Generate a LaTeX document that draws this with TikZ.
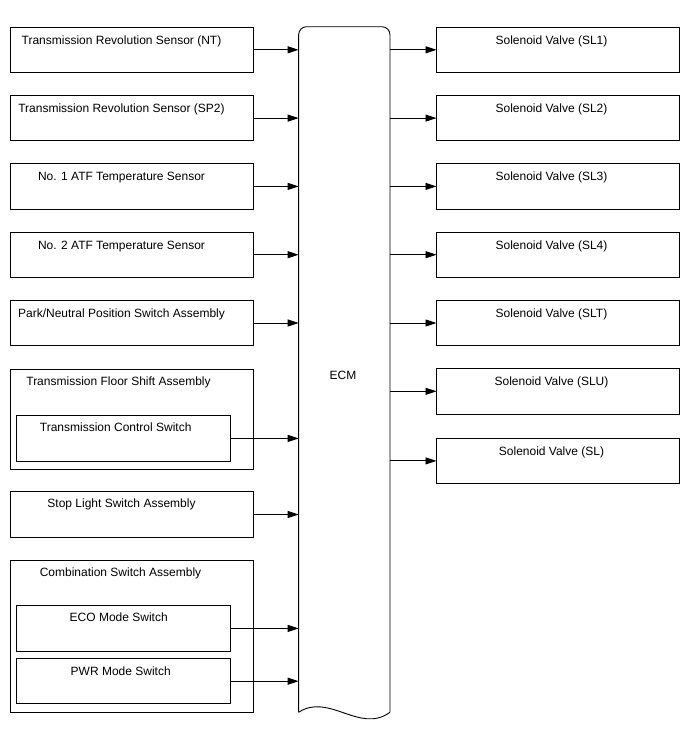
\documentclass[tikz,border=0pt]{standalone}
\usepackage{fontspec}
\setmainfont{Liberation Sans}
\usetikzlibrary{arrows.meta,positioning}

\begin{document}
\begin{tikzpicture}[x=1pt,y=-1pt,>={Triangle[length=11pt,width=7pt]},
    every node/.style={font=\fontsize{12}{14}\selectfont}]
  \tikzstyle{box}=[draw,line width=0.9pt,inner sep=0pt,outer sep=0pt,minimum width=243pt,minimum height=45.3pt]
  \tikzstyle{inbox}=[box,minimum width=214pt]
  \tikzstyle{txt}=[anchor=base,yshift=-17pt,xshift=-10pt]
  \tikzstyle{rtxt}=[anchor=base,yshift=-17pt,xshift=-6.5pt]
  \tikzstyle{itxt}=[anchor=base,yshift=-15.5pt,xshift=-5pt]
  \tikzstyle{link}=[line width=0.9pt,->]
  \useasboundingbox (0,0) rectangle (688,755);
  % inputs
  \node[box,label={[txt]north:Transmission Revolution Sensor (NT)}] (nt) at (131.5,49.8) {};
  \node[box,below=23pt of nt,label={[txt]north:Transmission Revolution Sensor (SP2)}] (sp2) {};
  \node[box,below=23pt of sp2,label={[txt]north:No. 1 ATF Temperature Sensor}] (atf1) {};
  \node[box,below=23pt of atf1,label={[txt]north:No. 2 ATF Temperature Sensor}] (atf2) {};
  \node[box,below=23pt of atf2,label={[txt]north:Park/Neutral Position Switch Assembly}] (pnp) {};
  \node[box,minimum height=99.7pt,label={[anchor=base,yshift=-16pt,xshift=-13pt]north:Transmission Floor Shift Assembly}] (floor) at (131.5,419.2) {};
  \node[inbox,label={[itxt,xshift=-3pt]north:Transmission Control Switch}] (tcs) at (123.7,438.4) {};
  \node[box,label={[txt,yshift=1pt]north:Stop Light Switch Assembly}] (stop) at (131.5,514.5) {};
  \node[box,minimum height=152.7pt,label={[anchor=base,yshift=-16.7pt,xshift=-11pt]north:Combination Switch Assembly}] (comb) at (131.5,636.4) {};
  \node[inbox,label={[itxt]north:ECO Mode Switch}] (eco) at (123.7,628.4) {};
  \node[inbox,label={[itxt,yshift=-1.2pt,xshift=2pt]north:PWR Mode Switch}] (pwr) at (123.7,681.2) {};
  % ECM
  \node[minimum width=91.3pt,minimum height=685.6pt,inner sep=0pt,outer sep=0pt] (ecm) at (344.3,369.5) {};
  \node[anchor=base] (ecmtxt) at (343,379) {ECM};
  \draw[line width=0.9pt,rounded corners=8pt] (ecm.south west) -- (ecm.north west) -- (ecm.north east) -- (ecm.south east);
  \draw[line width=0.9pt] (ecm.south west) .. controls +(30,-20) and +(-30,22) .. (ecm.south east);
  % outputs
  \node[box,label={[rtxt]north:Solenoid Valve (SL1)}] (sl1) at (558,49.8) {};
  \node[box,below=23pt of sl1,label={[rtxt]north:Solenoid Valve (SL2)}] (sl2) {};
  \node[box,below=23pt of sl2,label={[rtxt]north:Solenoid Valve (SL3)}] (sl3) {};
  \node[box,below=23pt of sl3,label={[rtxt]north:Solenoid Valve (SL4)}] (sl4) {};
  \node[box,below=23pt of sl4,label={[rtxt]north:Solenoid Valve (SLT)}] (slt) {};
  \node[box,below=23pt of slt,label={[rtxt]north:Solenoid Valve (SLU)}] (slu) {};
  \node[box,below=24.3pt of slu,label={[rtxt]north:Solenoid Valve (SL)}] (sl) {};
  \foreach \s in {nt,sp2,atf1,atf2,pnp,tcs,stop,eco,pwr}
    \draw[link] (\s.east) -- (\s.east -| ecm.west);
  \foreach \s in {sl1,sl2,sl3,sl4,slt,slu,sl}
    \draw[link] (\s.west -| ecm.east) -- (\s.west);
\end{tikzpicture}
\end{document}
